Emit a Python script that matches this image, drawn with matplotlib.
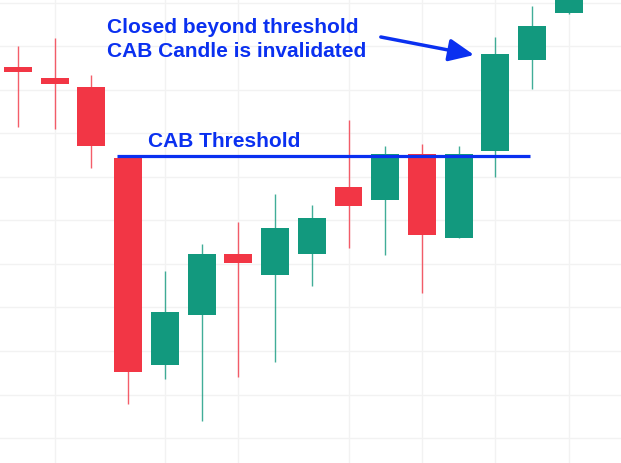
import matplotlib.pyplot as plt
import numpy as np

plt.rcParams['font.family'] = ['Liberation Sans', 'DejaVu Sans']

# candle prices (arbitrary units), one entry per bar
opens = [396, 385, 376, 305, 98, 148, 209, 188, 209, 276, 263, 309, 225, 312, 403, 450]
highs = [417, 425, 388, 307, 192, 219, 241, 269, 258, 343, 317, 319, 317, 426, 457, 500]
lows = [336, 334, 295, 59, 84, 42, 86, 101, 177, 215, 208, 170, 225, 286, 374, 449]
closes = [391, 379, 317, 91, 151, 209, 200, 235, 245, 257, 309, 228, 309, 409, 437, 484]

threshold = 307
threshold_from, threshold_to = 2.7, 13.95

grid_x = [1, 4, 6, 9, 11, 13, 15]
grid_y = [25, 68, 112, 156, 199, 243, 286, 330, 373, 417, 460]

up_color = '#12997e'
down_color = '#f23645'
blue = '#0a30f0'

fig = plt.figure(figsize=(6.21, 4.64), dpi=100)
ax = fig.add_axes([0, 0, 1, 1])

idx = np.arange(len(opens))
o = np.array(opens)
c = np.array(closes)
colors = [up_color if cc >= oo else down_color for oo, cc in zip(o, c)]

for x in grid_x:
    ax.axvline(x, color='#f2f2f2', lw=1, zorder=0)
for y in grid_y:
    ax.axhline(y, color='#f2f2f2', lw=1, zorder=0)

ax.vlines(idx, lows, highs, colors=colors, lw=1.0, alpha=0.8, zorder=2)
ax.bar(idx, np.abs(c - o), bottom=np.minimum(o, c), width=0.76,
       color=colors, edgecolor='none', zorder=3)

ax.hlines(threshold, threshold_from, threshold_to, colors=blue, lw=2.3, zorder=4)

ax.text(3.54, 317, 'CAB Threshold', color=blue, fontsize=15,
        fontweight='bold', va='baseline', ha='left', zorder=5)
# multi-line text: baseline refers to the last line here
ax.text(2.42, 407, 'Closed beyond threshold\nCAB Candle is invalidated',
        color=blue, fontsize=15, fontweight='bold', va='baseline', ha='left',
        linespacing=1.32, zorder=5)

ax.annotate('', xy=(12.42, 408), xytext=(9.88, 426),
            arrowprops=dict(arrowstyle='-|>,head_length=0.85,head_width=0.38',
                            color=blue, lw=2.5, mutation_scale=18,
                            shrinkA=0, shrinkB=0), zorder=5)

ax.set_xlim(-0.49, 16.42)
ax.set_ylim(0, 464)
ax.axis('off')

plt.savefig('out.png', dpi=100)
